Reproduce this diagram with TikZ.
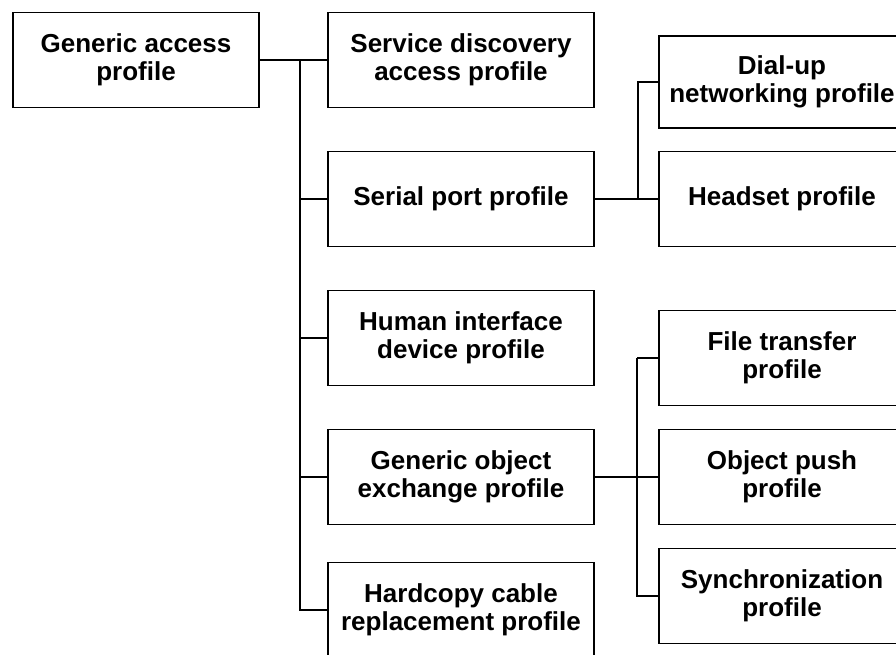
\documentclass[tikz,border=0pt]{standalone}
\usepackage{fontspec}
\setmainfont{Liberation Sans}
\begin{document}
\begin{tikzpicture}[x=1pt,y=-1pt,
  profile/.style={draw=black,line width=1.7pt,rectangle,inner sep=0pt,
    minimum width=#1,minimum height=95pt,align=center,
    font=\fontsize{26}{28}\selectfont\bfseries},
  profile/.default=266pt,
  link/.style={draw=black,line width=1.4pt}]
\useasboundingbox (0,0) rectangle (896,655);
\clip (0,0) rectangle (896,655);
\fill[white] (0,0) rectangle (896,655);

% root
\node[profile=246pt] (gap) at (136,60) {Generic access\\profile};

% middle column
\node[profile] (sdap) at (461,60)  {Service discovery\\access profile};
\node[profile] (spp)  at (461,199) {Serial port profile};
\node[profile] (hid)  at (461,338) {Human interface\\device profile};
\node[profile] (goep) at (461,477) {Generic object\\exchange profile};
\node[profile] (hcrp) at (461,610) {Hardcopy cable\\replacement profile};

% right column
\node[profile=246pt,minimum height=92pt] (dun) at (782,82) {Dial-up\\networking profile};
\node[profile=246pt] (hs)   at (782,199) {Headset profile};
\node[profile=246pt] (ftp)  at (782,358) {File transfer\\profile};
\node[profile=246pt] (opp)  at (782,477) {Object push\\profile};
\node[profile=246pt] (sync) at (782,596) {Synchronization\\profile};

% trunk joining the root to the middle column
\coordinate (trunk) at (300,0);
\draw[link] (gap.east) -- (sdap.west);
\draw[link] (trunk |- gap.east) |- (hcrp.west);
\draw[link] (trunk |- spp.west) -- (spp.west);
\draw[link] (trunk |- hid.west) -- (hid.west);
\draw[link] (trunk |- goep.west) -- (goep.west);

% serial port branch
\coordinate (sbr) at (638,0);
\draw[link] (spp.east) -- (hs.west);
\draw[link] (sbr |- spp.east) |- (dun.west);

% object exchange branch
\coordinate (obr) at (637,0);
\draw[link] (goep.east) -- (opp.west);
\draw[link] (obr |- ftp.west) -- (ftp.west);
\draw[link] (obr |- ftp.west) |- (sync.west);
\end{tikzpicture}
\end{document}
